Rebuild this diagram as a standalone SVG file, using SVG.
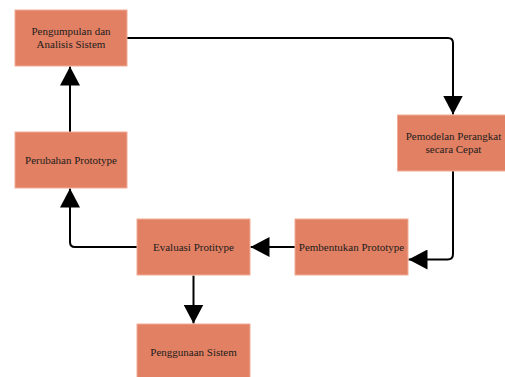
<svg xmlns="http://www.w3.org/2000/svg" width="505" height="377" viewBox="0 0 505 377">
<defs>
<style>
.box{fill:#e28063;stroke:#f2ac96;stroke-width:1}
.t{font-family:'Liberation Serif','Times New Roman',Times,'DejaVu Serif',serif;font-size:11px;fill:#1c1c1c;text-anchor:middle}
.c{fill:none;stroke:#000;stroke-width:2}
</style>
<marker id="ah" viewBox="0 0 19 20" markerWidth="19" markerHeight="20" refX="19" refY="10" orient="auto" markerUnits="userSpaceOnUse">
<path d="M0,0 L19,10 L0,20 Z" fill="#000"/>
</marker>
</defs>
<rect width="505" height="377" fill="#fff"/>
<g id="connectors">
<path class="c" d="M127,38 H448 Q453,38 453,43 V114.5" marker-end="url(#ah)"/>
<path class="c" d="M453,171 V254 Q453,259.5 447.5,259.5 H408.5" marker-end="url(#ah)"/>
<path class="c" d="M295,247 H250.5" marker-end="url(#ah)"/>
<path class="c" d="M137,247 H75 Q70,247 70,242 V188.5" marker-end="url(#ah)"/>
<path class="c" d="M193.5,275.5 V323.5" marker-end="url(#ah)"/>
<path class="c" d="M70,132 V66.5" marker-end="url(#ah)"/>
</g>
<g id="pengumpulan">
<rect class="box" x="15" y="10" width="112" height="56"/>
<text class="t" x="71" y="35" font-family="Liberation Serif, serif">Pengumpulan dan</text>
<text class="t" x="71" y="48" font-family="Liberation Serif, serif">Analisis Sistem</text>
</g>
<g id="perubahan">
<rect class="box" x="15" y="132" width="112" height="56"/>
<text class="t" x="71" y="164" font-family="Liberation Serif, serif">Perubahan Prototype</text>
</g>
<g id="pemodelan">
<rect class="box" x="397.5" y="115" width="112" height="56"/>
<text class="t" x="453.5" y="140" font-family="Liberation Serif, serif">Pemodelan Perangkat</text>
<text class="t" x="453.5" y="153" font-family="Liberation Serif, serif">secara Cepat</text>
</g>
<g id="pembentukan">
<rect class="box" x="295" y="219" width="113" height="56"/>
<text class="t" x="351.5" y="251" font-family="Liberation Serif, serif">Pembentukan Prototype</text>
</g>
<g id="evaluasi">
<rect class="box" x="137" y="219" width="113" height="56"/>
<text class="t" x="193.5" y="251" font-family="Liberation Serif, serif">Evaluasi Protitype</text>
</g>
<g id="penggunaan">
<rect class="box" x="137" y="324" width="113" height="56"/>
<text class="t" x="193.5" y="356" font-family="Liberation Serif, serif">Penggunaan Sistem</text>
</g>
</svg>
